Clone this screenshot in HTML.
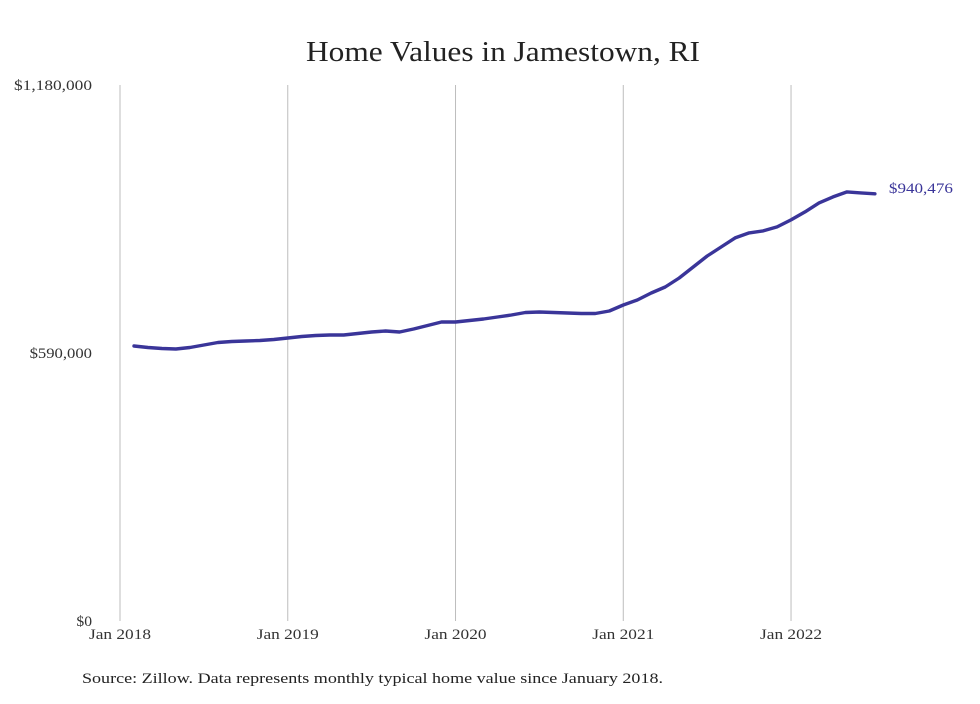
<!DOCTYPE html>
<html><head><meta charset="utf-8"><style>
body{margin:0;background:#fff;}
svg text{font-family:"Liberation Serif",serif;}
</style></head><body>
<svg id="chart" width="980" height="699" viewBox="0 0 980 699">
<rect width="980" height="699" fill="#fff"/>
<text x="306" y="61" font-size="29" fill="#222" textLength="394" lengthAdjust="spacingAndGlyphs">Home Values in Jamestown, RI</text>
<g id="grid"></g><g id="yax"></g><g id="xax"></g><g id="series"></g>
<text x="82" y="683" font-size="15" fill="#222" textLength="581" lengthAdjust="spacingAndGlyphs">Source: Zillow. Data represents monthly typical home value since January 2018.</text>
</svg>
<script>
const values=[605400,602100,599900,598800,602100,607600,613100,615300,616400,617500,619700,623000,626300,628500,629600,629600,632900,636200,638400,636200,642800,650500,658200,658200,661500,664900,669300,673700,679200,680200,679200,678100,677000,677000,682500,695700,706700,722100,735300,755100,779300,803500,823400,843500,854500,858900,867700,883100,900700,920500,933700,944700,942500,940476];
const startMonth=1;
const xTickLabels=["Jan 2018","Jan 2019","Jan 2020","Jan 2021","Jan 2022"];
const yTicks=[0,590000,1180000];
const yTickLabels=["$0","$590,000","$1,180,000"];
const lastLabel="$940,476";
const NS="http://www.w3.org/2000/svg";
const x0=120,pxPerMonth=13.98,yBase=621,yTop=85,yMax=1180000;
const X=m=>x0+m*pxPerMonth;
const Y=v=>yBase-(v/yMax)*(yBase-yTop);
function mk(t,a,p){const e=document.createElementNS(NS,t);for(const k in a)e.setAttribute(k,a[k]);p.appendChild(e);return e;}
const grid=document.getElementById('grid'),xax=document.getElementById('xax'),yax=document.getElementById('yax'),ser=document.getElementById('series');
xTickLabels.forEach((l,i)=>{
 const gx=X(i*12);
 const ln=mk('line',{x1:gx,x2:gx,y1:yTop,y2:yBase,stroke:'#bdbdbd','stroke-width':1},grid);
 
 
 const t=mk('text',{x:gx,y:yBase+18,'text-anchor':'middle','font-size':15,fill:'#333',textLength:62,lengthAdjust:'spacingAndGlyphs'},xax);
 t.textContent=l;
 
 
});
yTicks.forEach((v,i)=>{
 const t=mk('text',{x:92,y:Y(v)+5,'text-anchor':'end','font-size':15,fill:'#333',textLength:yTickLabels[i].length*7.8,lengthAdjust:'spacingAndGlyphs'},yax);
 t.textContent=yTickLabels[i];
 
 
});
const d=values.map((v,i)=>(i?'L':'M')+X(startMonth+i).toFixed(1)+','+Y(v).toFixed(1)).join(' ');
const path=mk('path',{d:d,fill:'none',stroke:'#3a3599','stroke-width':3.4,'stroke-linejoin':'round','stroke-linecap':'round'},ser);


const li=values.length-1;
const lt=mk('text',{x:X(startMonth+li)+14,y:Y(values[li])+-1,'font-size':15,fill:'#3a3599',textLength:64,lengthAdjust:'spacingAndGlyphs'},ser);
lt.textContent=lastLabel;


</script>
</body></html>
